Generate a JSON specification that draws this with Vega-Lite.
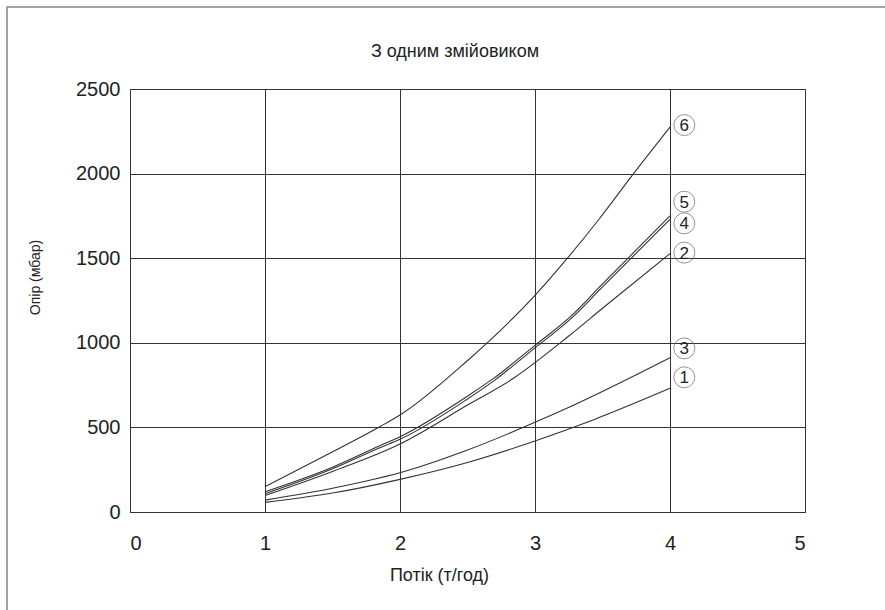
{
  "$schema": "https://vega.github.io/schema/vega-lite/v6.json",
  "width": 675,
  "height": 423,
  "autosize": "none",
  "padding": {"left": 130, "top": 89, "right": 80, "bottom": 98},
  "background": "white",
  "config": {
    "view": {"stroke": "#333", "strokeWidth": 1},
    "font": "Liberation Sans",
    "axis": {"domain": false, "ticks": false, "tickSize": 0, "grid": true, "gridColor": "#333", "gridOpacity": 1, "gridWidth": 1, "labelColor": "#222", "titleColor": "#222", "titleFontWeight": "normal", "labelFont": "Liberation Sans", "titleFont": "Liberation Sans"}
  },
  "datasets": {
    "curves": [
      {"s": "1", "q": 1, "p": 57}, {"s": "1", "q": 1.5, "p": 112}, {"s": "1", "q": 2, "p": 193}, {"s": "1", "q": 2.5, "p": 293}, {"s": "1", "q": 3, "p": 420}, {"s": "1", "q": 3.43, "p": 544}, {"s": "1", "q": 4, "p": 731},
      {"s": "3", "q": 1, "p": 70}, {"s": "3", "q": 1.5, "p": 140}, {"s": "3", "q": 1.75, "p": 183}, {"s": "3", "q": 2, "p": 232}, {"s": "3", "q": 2.5, "p": 366}, {"s": "3", "q": 3, "p": 530}, {"s": "3", "q": 3.26, "p": 622}, {"s": "3", "q": 4, "p": 912},
      {"s": "2", "q": 1, "p": 98}, {"s": "2", "q": 1.5, "p": 240}, {"s": "2", "q": 2, "p": 402}, {"s": "2", "q": 2.5, "p": 632}, {"s": "2", "q": 2.84, "p": 790}, {"s": "2", "q": 3.25, "p": 1040}, {"s": "2", "q": 3.5, "p": 1204}, {"s": "2", "q": 4, "p": 1527},
      {"s": "4", "q": 1, "p": 108}, {"s": "4", "q": 1.5, "p": 255}, {"s": "4", "q": 1.85, "p": 380}, {"s": "4", "q": 2, "p": 430}, {"s": "4", "q": 2.5, "p": 668}, {"s": "4", "q": 2.69, "p": 772}, {"s": "4", "q": 3, "p": 970}, {"s": "4", "q": 3.26, "p": 1138}, {"s": "4", "q": 3.5, "p": 1330}, {"s": "4", "q": 4, "p": 1730},
      {"s": "5", "q": 1, "p": 120}, {"s": "5", "q": 1.5, "p": 265}, {"s": "5", "q": 1.85, "p": 392}, {"s": "5", "q": 2, "p": 445}, {"s": "5", "q": 2.5, "p": 685}, {"s": "5", "q": 2.69, "p": 788}, {"s": "5", "q": 3, "p": 985}, {"s": "5", "q": 3.26, "p": 1153}, {"s": "5", "q": 3.5, "p": 1348}, {"s": "5", "q": 4, "p": 1750},
      {"s": "6", "q": 1, "p": 150}, {"s": "6", "q": 1.43, "p": 327}, {"s": "6", "q": 1.85, "p": 504}, {"s": "6", "q": 2, "p": 573}, {"s": "6", "q": 2.49, "p": 888}, {"s": "6", "q": 3, "p": 1280}, {"s": "6", "q": 3.24, "p": 1500}, {"s": "6", "q": 3.48, "p": 1736}, {"s": "6", "q": 3.73, "p": 2000}, {"s": "6", "q": 4, "p": 2275}
    ],
    "labels": [
      {"t": "6", "q": 4.106, "p": 2287},
      {"t": "5", "q": 4.106, "p": 1834},
      {"t": "4", "q": 4.106, "p": 1706},
      {"t": "2", "q": 4.106, "p": 1533},
      {"t": "3", "q": 4.106, "p": 967},
      {"t": "1", "q": 4.106, "p": 796}
    ]
  },
  "layer": [
    {
      "data": {"name": "curves"},
      "mark": {"type": "line", "color": "#333", "strokeWidth": 1.1, "interpolate": "monotone"},
      "encoding": {
        "x": {"field": "q", "type": "quantitative", "scale": {"domain": [0, 5], "nice": false}, "axis": {"title": "Потік (т/год)", "values": [0, 1, 2, 3, 4, 5], "format": "d", "labelFontSize": 20, "labelPadding": 21, "titleFontSize": 18, "titlePadding": 13, "titleX": 309}},
        "y": {"field": "p", "type": "quantitative", "scale": {"domain": [0, 2500], "nice": false}, "axis": {"title": "Опір (мбар)", "values": [0, 500, 1000, 1500, 2000, 2500], "format": "d", "labelFontSize": 20, "labelPadding": 10, "titleFontSize": 14, "titlePadding": 33, "titleY": 188}},
        "detail": {"field": "s"},
        "order": {"field": "q"}
      }
    },
    {
      "data": {"name": "labels"},
      "mark": {"type": "point", "shape": "circle", "size": 440, "filled": false, "stroke": "#666", "strokeWidth": 1},
      "encoding": {
        "x": {"field": "q", "type": "quantitative"},
        "y": {"field": "p", "type": "quantitative"}
      }
    },
    {
      "data": {"name": "labels"},
      "mark": {"type": "text", "font": "Liberation Sans", "fontSize": 17, "color": "#222", "align": "center", "baseline": "middle", "dy": 1},
      "encoding": {
        "x": {"field": "q", "type": "quantitative"},
        "y": {"field": "p", "type": "quantitative"},
        "text": {"field": "t"}
      }
    },
    {
      "data": {"values": [{"t": "З одним змійовиком"}]},
      "mark": {"type": "text", "font": "Liberation Sans", "fontSize": 18, "color": "#222", "align": "center", "baseline": "middle", "clip": false},
      "encoding": {
        "x": {"datum": 2.407, "type": "quantitative"},
        "y": {"datum": 2720, "type": "quantitative"},
        "text": {"field": "t"}
      }
    },
    {
      "data": {"values": [{}]},
      "mark": {"type": "rect", "fill": null, "stroke": "#888", "strokeWidth": 1.5, "clip": false},
      "encoding": {
        "x": {"datum": -0.911, "type": "quantitative"},
        "x2": {"datum": 10},
        "y": {"datum": 2985, "type": "quantitative"},
        "y2": {"datum": -3000}
      }
    }
  ]
}
